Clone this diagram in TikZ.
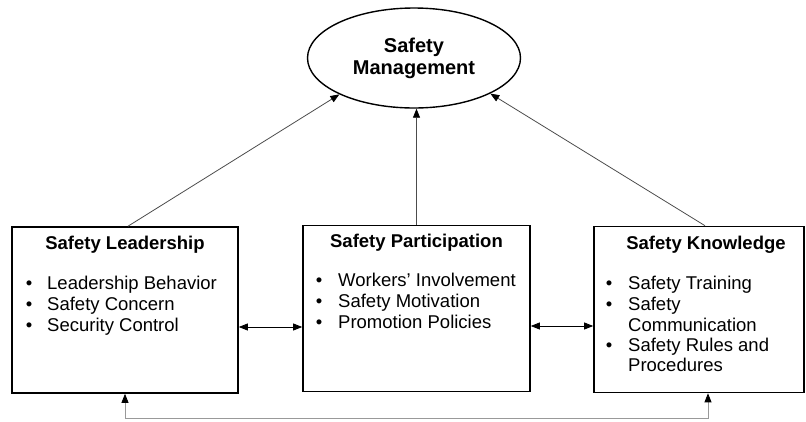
\documentclass[tikz,border=0pt]{standalone}
\usepackage{fontspec}
\setmainfont{Liberation Sans}
\usetikzlibrary{shapes.geometric,arrows.meta}

\begin{document}
\begin{tikzpicture}[x=1pt,y=-1pt,
	every node/.style={font=\fontsize{18.5}{21}\selectfont, inner sep=0pt},
	block/.style={draw, line width=1.6pt, minimum width=#1, minimum height=166pt},
	head/.style={anchor=base, font=\fontsize{18.5}{21}\selectfont\bfseries},
	item/.style={anchor=base west},
	dot/.style={anchor=base},
	link/.style={line width=0.8pt, black!70},
	>={Triangle[color=black,length=9pt,width=7pt]}]
	\useasboundingbox (0,0) rectangle (806,421);
	% top construct
	\node[ellipse, draw, line width=1.4pt, minimum width=213pt, minimum height=100pt, align=center,
		font=\fontsize{20}{22}\selectfont\bfseries] (mgmt) at (414,58) {Safety\\Management};
	% the three dimensions
	\node[block=226pt] (lead) at (125,310) {};
	\node[block=227pt] (part) at (416.5,308.5) {};
	\node[block=210pt] (know) at (699,309.5) {};
	\node[head] (leadT) at (125,249.5) {Safety Leadership};
	\node[head] (partT) at (416.5,247.5) {Safety Participation};
	\node[head] (knowT) at (706,249.5) {Safety Knowledge};
	\foreach \t [count=\i] in {Leadership Behavior, Safety Concern, Security Control} {
		\node[dot] (leadD\i) at (29,{268.5+21*\i}) {\textbullet};
		\node[item] (leadI\i) at (47,{268.5+21*\i}) {\t};
	}
	\foreach \t [count=\i] in {Workers’ Involvement, Safety Motivation, Promotion Policies} {
		\node[dot] (partD\i) at (319,{265.5+21*\i}) {\textbullet};
		\node[item] (partI\i) at (338,{265.5+21*\i}) {\t};
	}
	\foreach \y/\t [count=\i] in {289.5/Safety Training, 310.5/Safety, 331/Communication, 351/Safety Rules and, 371/Procedures}
		\node[item] (knowI\i) at (628,\y) {\t};
	\foreach \y [count=\i] in {289.5,310.5,351} \node[dot] (knowD\i) at (609,\y) {\textbullet};
	% connectors
	\draw[->, link] ([xshift=3pt]lead.north) -- (mgmt.206);
	\draw[->, link] (part.north) -- (part.north |- mgmt.south);
	\draw[->, link] ([xshift=6pt]know.north) -- (mgmt.335);
	\draw[<->, link, black] ([yshift=-17pt]lead.east) -- ([yshift=-17pt]lead.east -| part.west);
	\draw[<->, link, black] ([yshift=-17.5pt]part.east) -- ([yshift=-17.5pt]part.east -| know.west);
	\draw[<->, link, black!40] ([xshift=9pt]know.south) -- ++(0,25) -| (lead.south);
\end{tikzpicture}
\end{document}
